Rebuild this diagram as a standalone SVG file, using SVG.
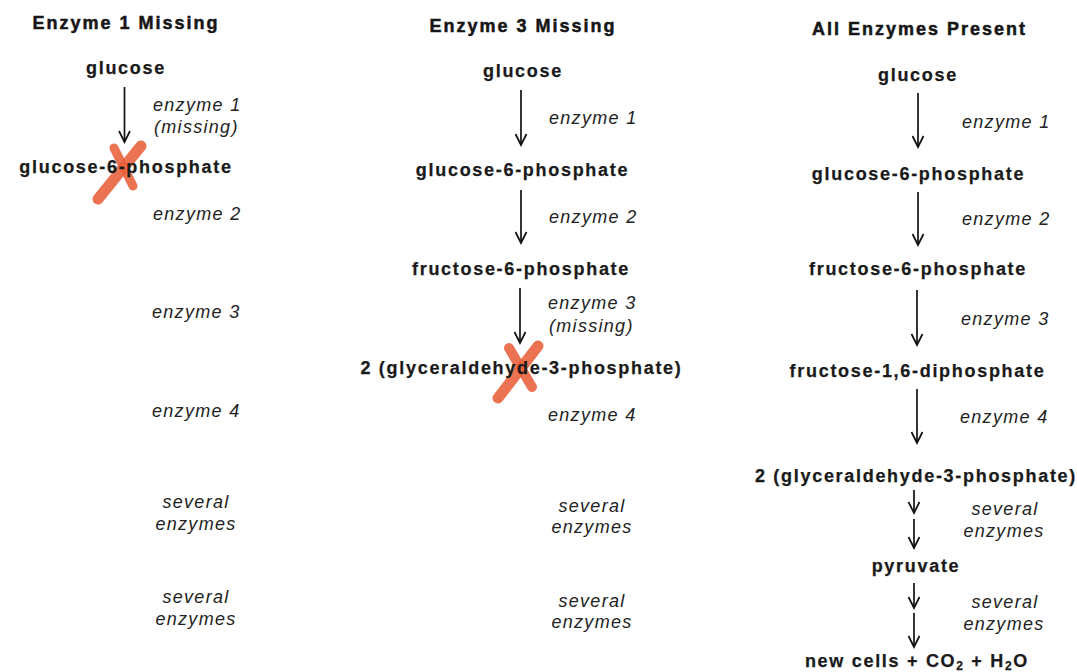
<svg xmlns="http://www.w3.org/2000/svg" width="1077" height="672" viewBox="0 0 1077 672">
<style>
.t{font-family:"Liberation Sans",Arial,sans-serif;font-weight:bold;font-size:18px;letter-spacing:2px;fill:#161616;stroke:#161616;stroke-width:0.5px;text-anchor:middle}
.n{font-family:"Liberation Sans",Arial,sans-serif;font-weight:bold;font-size:18px;letter-spacing:1.7px;fill:#1a1a1a;stroke:#1a1a1a;stroke-width:0.25px;text-anchor:middle}
.e{font-family:"Liberation Sans",Arial,sans-serif;font-style:italic;font-size:18px;letter-spacing:1.3px;fill:#222}
.c{text-anchor:middle}
.a{stroke:#111;stroke-width:1.7;fill:none;marker-end:url(#ah)}
.x{stroke:#e8603a;stroke-linecap:round;fill:none;opacity:0.88}
</style>
<defs>
<marker id="ah" markerUnits="userSpaceOnUse" viewBox="-12 -7 14 14" refX="0" refY="0" markerWidth="14" markerHeight="14" orient="auto" overflow="visible">
<path d="M-11,-5.5 L0,0 L-11,5.5" fill="none" stroke="#111" stroke-width="1.7"/>
</marker>
</defs>
<rect width="1077" height="672" fill="#fff"/>

<g id="marks">
<path class="x" d="M141,146 L98,199" stroke-width="11"/>
<path class="x" d="M114,148 L133,186" stroke-width="9"/>
<path class="x" d="M509,348 L532,387" stroke-width="10"/>
<path class="x" d="M538,346 L498,398" stroke-width="11"/>
</g>

<g id="connectors">
<line class="a" x1="124.5" y1="87" x2="124.5" y2="142"/>
<line class="a" x1="521" y1="90" x2="521" y2="145"/>
<line class="a" x1="521" y1="190" x2="521" y2="243"/>
<line class="a" x1="520" y1="288" x2="520" y2="343"/>
<line class="a" x1="918" y1="93" x2="918" y2="147"/>
<line class="a" x1="918" y1="192" x2="918" y2="245"/>
<line class="a" x1="917" y1="290" x2="917" y2="345"/>
<line class="a" x1="917" y1="389" x2="917" y2="443"/>
<line class="a" x1="914" y1="490" x2="914" y2="513"/>
<line class="a" x1="914" y1="519" x2="914" y2="548"/>
<line class="a" x1="914" y1="583" x2="914" y2="608"/>
<line class="a" x1="914" y1="613" x2="914" y2="647"/>
</g>

<g id="col1">
<text id="title1" class="t" x="126" y="29">Enzyme 1 Missing</text>
<g id="c1-glucose"><text class="n" x="126" y="74">glucose</text></g>
<g id="c1-e1"><text class="e" x="153" y="111">enzyme 1</text><text class="e" x="154" y="133">(missing)</text></g>
<g id="c1-g6p"><text class="n" x="126" y="173">glucose-6-phosphate</text></g>
<g id="c1-e2"><text class="e" x="153" y="220">enzyme 2</text></g>
<g id="c1-e3"><text class="e" x="152" y="318">enzyme 3</text></g>
<g id="c1-e4"><text class="e" x="152" y="417">enzyme 4</text></g>
<g id="c1-s1"><text class="e c" x="196" y="508">several</text><text class="e c" x="196" y="530">enzymes</text></g>
<g id="c1-s2"><text class="e c" x="196" y="603">several</text><text class="e c" x="196" y="625">enzymes</text></g>
</g>

<g id="col2">
<text id="title2" class="t" x="523" y="32">Enzyme 3 Missing</text>
<g id="c2-glucose"><text class="n" x="523" y="77">glucose</text></g>
<g id="c2-e1"><text class="e" x="549" y="124">enzyme 1</text></g>
<g id="c2-g6p"><text class="n" x="522.5" y="176">glucose-6-phosphate</text></g>
<g id="c2-e2"><text class="e" x="549" y="223">enzyme 2</text></g>
<g id="c2-f6p"><text class="n" x="521" y="275">fructose-6-phosphate</text></g>
<g id="c2-e3"><text class="e" x="548" y="309">enzyme 3</text><text class="e" x="549" y="332">(missing)</text></g>
<g id="c2-g3p"><text class="n" x="521.5" y="374">2 (glyceraldehyde-3-phosphate)</text></g>
<g id="c2-e4"><text class="e" x="548" y="421">enzyme 4</text></g>
<g id="c2-s1"><text class="e c" x="592" y="512">several</text><text class="e c" x="592" y="533">enzymes</text></g>
<g id="c2-s2"><text class="e c" x="592" y="607">several</text><text class="e c" x="592" y="628">enzymes</text></g>
</g>

<g id="col3">
<text id="title3" class="t" x="919.5" y="35">All Enzymes Present</text>
<g id="c3-glucose"><text class="n" x="918" y="81">glucose</text></g>
<g id="c3-e1"><text class="e" x="962" y="128">enzyme 1</text></g>
<g id="c3-g6p"><text class="n" x="918.5" y="180">glucose-6-phosphate</text></g>
<g id="c3-e2"><text class="e" x="962" y="225">enzyme 2</text></g>
<g id="c3-f6p"><text class="n" x="918" y="275">fructose-6-phosphate</text></g>
<g id="c3-e3"><text class="e" x="961" y="325">enzyme 3</text></g>
<g id="c3-fdp"><text class="n" x="917.5" y="377">fructose-1,6-diphosphate</text></g>
<g id="c3-e4"><text class="e" x="960" y="423">enzyme 4</text></g>
<g id="c3-g3p"><text class="n" x="916" y="482">2 (glyceraldehyde-3-phosphate)</text></g>
<g id="c3-s1"><text class="e c" x="1005" y="515">several</text><text class="e c" x="1004" y="537">enzymes</text></g>
<g id="c3-pyr"><text class="n" x="916" y="572">pyruvate</text></g>
<g id="c3-s2"><text class="e c" x="1005" y="608">several</text><text class="e c" x="1004" y="630">enzymes</text></g>
<g id="c3-end"><text class="n" x="917" y="667">new cells + CO<tspan font-size="12" dy="3">2</tspan><tspan dy="-3"> + H</tspan><tspan font-size="12" dy="3">2</tspan><tspan dy="-3">O</tspan></text></g>
</g>
</svg>
